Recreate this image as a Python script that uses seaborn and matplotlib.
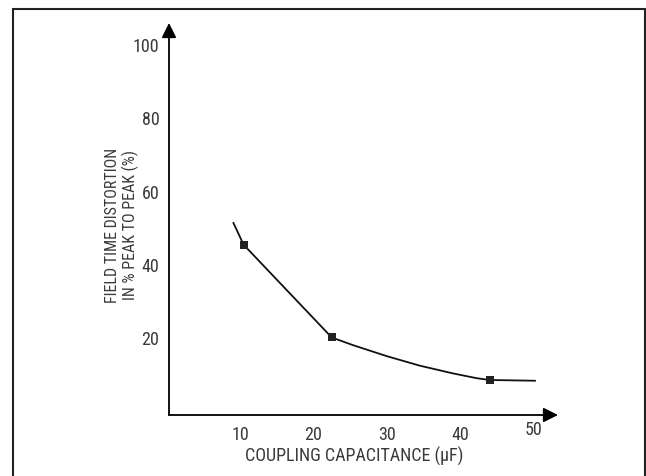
import matplotlib
matplotlib.use("Agg")
import matplotlib.pyplot as plt
import matplotlib.transforms as mtrans
import seaborn as sns
from matplotlib.lines import Line2D

# data
curve_cap = [9.1, 10.5, 22.5, 25.4, 30.0, 34.5, 39.0, 42.2, 44.0, 50.2]
curve_dist = [51.5, 45.5, 20.2, 18.1, 15.1, 12.5, 10.4, 9.1, 8.6, 8.4]
point_cap = [10.5, 22.5, 44.0]
point_dist = [45.5, 20.2, 8.6]
x_ticks = [10, 20, 30, 40, 50]
y_ticks = [20, 40, 60, 80, 100]

sns.set_theme(style="white")
plt.rcParams['font.family'] = ['Roboto Condensed', 'DejaVu Sans']

txt = "#3a3a3a"
fig = plt.figure(figsize=(6.46, 4.76), dpi=100)
ax = fig.add_axes([169 / 646, 61 / 476, 389 / 646, 392 / 476])

sns.lineplot(x=curve_cap, y=curve_dist, sort=False, color="#111111", linewidth=1.3, ax=ax)
sns.scatterplot(x=point_cap, y=point_dist, marker="s", s=40, color="#222222",
                edgecolor="#222222", linewidth=0, zorder=3, ax=ax)

ax.set_xlim(0.34, 53.3)
ax.set_ylim(-0.95, 106)
ax.set_xticks(x_ticks)
ax.set_yticks(y_ticks)
ax.tick_params(axis="both", length=0, labelsize=13, labelcolor=txt)
ax.tick_params(axis="x", pad=8)
ax.tick_params(axis="y", pad=7)
for s in ax.spines.values():
    s.set_visible(False)

# the "50" label sits a little higher in the original
lab50 = ax.get_xticklabels()[-1]
lab50.set_transform(lab50.get_transform() + mtrans.ScaledTranslation(0, 5 / 100, fig.dpi_scale_trans))

# axis arrows
for tip in [(1, 0), (0, 1)]:
    ax.annotate("", xy=tip, xytext=(0, 0), xycoords="axes fraction",
                arrowprops=dict(arrowstyle="-|>", color="black", lw=1.3, mutation_scale=22,
                                shrinkA=0, shrinkB=0))

fig.text(354 / 646, 1 - 456 / 476, "COUPLING CAPACITANCE (\u00b5F)", fontsize=13,
         color=txt, ha="center", va="center")
fig.text(122 / 646, 1 - 225 / 476, "FIELD TIME DISTORTION\nIN % PEAK TO PEAK (%)",
         fontsize=11.5, color=txt, rotation=90, ha="center", va="center",
         multialignment="center", linespacing=1.1)

# outer frame, open at the bottom
fx0, fx1, fy1 = 13 / 646, 645 / 646, (476 - 9) / 476
for xs, ys in [([fx0, fx0], [0, fy1]), ([fx0, fx1], [fy1, fy1]), ([fx1, fx1], [fy1, 0])]:
    fig.add_artist(Line2D(xs, ys, color="#222222", lw=1.5, transform=fig.transFigure))

plt.savefig("out.png", dpi=100)
